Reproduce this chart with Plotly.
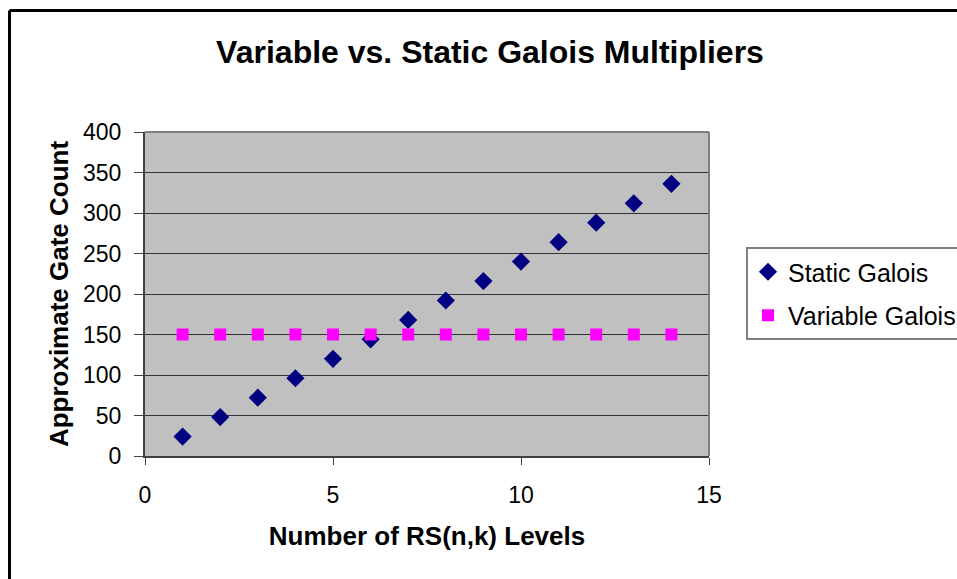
import plotly.graph_objects as go

levels = [1, 2, 3, 4, 5, 6, 7, 8, 9, 10, 11, 12, 13, 14]
static_galois = [24, 48, 72, 96, 120, 144, 168, 192, 216, 240, 264, 288, 312, 336]
variable_galois = [150, 150, 150, 150, 150, 150, 150, 150, 150, 150, 150, 150, 150, 150]

W, H = 957, 579
L, R, T, B = 145, 248, 132, 123
pw, ph = W - L - R, H - T - B

def px(x):
    return (x - L) / pw

def py(y):
    return 1 - (y - T) / ph

fig = go.Figure()
fig.add_trace(go.Scatter(x=levels, y=static_galois, mode="markers", name="Static Galois",
                         legendgroup="a",
                         marker=dict(symbol="diamond", size=14, color="#000080")))
fig.add_trace(go.Scatter(x=levels, y=variable_galois, mode="markers", name="Variable Galois",
                         legendgroup="b",
                         marker=dict(symbol="square", size=12, color="#FF00FF")))

font = "Arial, Liberation Sans, sans-serif"
fig.update_layout(
    width=W, height=H,
    margin=dict(l=L, r=R, t=T, b=B, autoexpand=False),
    paper_bgcolor="white", plot_bgcolor="#C0C0C0",
    font=dict(family=font, size=23, color="black"),
    title=dict(text="<b>Variable vs. Static Galois Multipliers</b>", x=490 / W, xanchor="center",
               y=1 - 52 / H, yanchor="middle", font=dict(size=32, family=font)),
    showlegend=True,
    legend=dict(x=px(746), y=py(247), xanchor="left", yanchor="top",
                bordercolor="#808080", borderwidth=2, bgcolor="white",
                font=dict(size=25, family=font), itemwidth=30, tracegroupgap=8),
)
fig.update_xaxes(range=[0, 15], tickvals=[0, 5, 10, 15], ticks="outside", ticklen=7,
                 tickcolor="#404040", showline=True, linecolor="#404040", linewidth=2,
                 showgrid=False, zeroline=False, tickfont=dict(size=23), ticklabelstandoff=10,
                 title=dict(text="<b>Number of RS(n,k) Levels</b>", font=dict(size=26), standoff=20))
fig.update_yaxes(range=[0, 400], tickvals=list(range(0, 401, 50)), ticks="outside", ticklen=9,
                 tickcolor="#404040", showline=True, linecolor="#404040", linewidth=2,
                 showgrid=True, gridcolor="#333333", gridwidth=1, zeroline=False,
                 tickfont=dict(size=23), ticklabelstandoff=8,
                 title=dict(text="<b>Approximate Gate Count</b>", font=dict(size=26), standoff=7))

# plot-area frame (top and right edges)
fig.add_shape(type="line", xref="paper", yref="paper", x0=0, x1=1, y0=1, y1=1,
              line=dict(color="#808080", width=2))
fig.add_shape(type="line", xref="paper", yref="paper", x0=1, x1=1, y0=0, y1=1,
              line=dict(color="#808080", width=2))
# outer chart-area border (left and top, rest cut off)
fig.add_shape(type="line", xref="paper", yref="paper", x0=px(9.5), x1=px(W + 5), y0=py(10.5), y1=py(10.5),
              line=dict(color="black", width=3))
fig.add_shape(type="line", xref="paper", yref="paper", x0=px(9.5), x1=px(9.5), y0=py(10.5), y1=py(H + 5),
              line=dict(color="black", width=3))

fig.write_html("out.html")
